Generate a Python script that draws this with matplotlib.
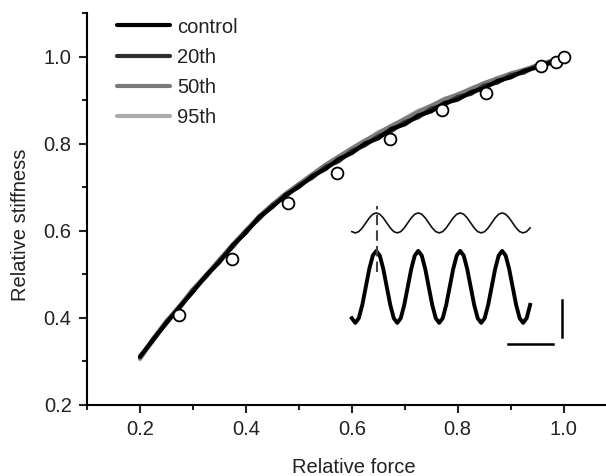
import matplotlib
matplotlib.use("Agg")
import matplotlib.pyplot as plt
from matplotlib.ticker import MultipleLocator, FormatStrFormatter

plt.rcParams['font.family'] = ['Liberation Sans', 'DejaVu Sans']

# Relative force (x) sampled along the stiffness-force relation
force = [0.200, 0.225, 0.250, 0.275, 0.300, 0.325, 0.350, 0.375, 0.400, 0.425,
         0.450, 0.475, 0.500, 0.525, 0.550, 0.575, 0.600, 0.625, 0.650, 0.675,
         0.700, 0.725, 0.750, 0.775, 0.800, 0.825, 0.850, 0.875, 0.900, 0.925,
         0.950, 0.975, 0.990]

stiff_control = [0.310, 0.351, 0.388, 0.426, 0.460, 0.498, 0.528, 0.567, 0.596, 0.632,
                 0.655, 0.683, 0.701, 0.726, 0.742, 0.765, 0.779, 0.801, 0.813, 0.835,
                 0.845, 0.865, 0.875, 0.894, 0.902, 0.919, 0.928, 0.945, 0.953, 0.968,
                 0.976, 0.988, 0.993]
stiff_20 = [0.312, 0.349, 0.391, 0.423, 0.464, 0.495, 0.532, 0.563, 0.600, 0.628,
            0.659, 0.679, 0.705, 0.722, 0.747, 0.760, 0.784, 0.797, 0.818, 0.830,
            0.850, 0.861, 0.881, 0.890, 0.908, 0.915, 0.934, 0.941, 0.958, 0.964,
            0.980, 0.985, 0.991]
stiff_50 = [0.308, 0.353, 0.393, 0.428, 0.466, 0.499, 0.534, 0.569, 0.601, 0.634,
            0.661, 0.686, 0.708, 0.730, 0.752, 0.771, 0.790, 0.808, 0.824, 0.842,
            0.857, 0.873, 0.888, 0.902, 0.914, 0.926, 0.940, 0.950, 0.962, 0.970,
            0.981, 0.990, 0.995]
stiff_95 = [0.305, 0.348, 0.390, 0.425, 0.463, 0.497, 0.531, 0.566, 0.599, 0.631,
            0.658, 0.684, 0.706, 0.729, 0.750, 0.769, 0.787, 0.806, 0.827, 0.840,
            0.858, 0.876, 0.887, 0.904, 0.912, 0.928, 0.938, 0.952, 0.960, 0.971,
            0.979, 0.991, 0.992]

# Open circles
circle_force = [0.273, 0.374, 0.479, 0.572, 0.672, 0.770, 0.854, 0.957, 0.985, 1.000]
circle_stiff = [0.406, 0.536, 0.665, 0.734, 0.811, 0.877, 0.918, 0.979, 0.988, 1.000]

series_labels = ['control', '20th', '50th', '95th']
series_colors = ['#000000', '#2e2e2e', '#7a7a7a', '#ababab']

# Inset: normalised sinusoidal traces (12 samples per cycle)
wave = [-0.87, -1.00, -0.87, -0.50, 0.00, 0.50, 0.87, 1.00, 0.87, 0.50, 0.00, -0.50,
        -0.87, -1.00, -0.87, -0.50, 0.00, 0.50, 0.87, 1.00, 0.87, 0.50, 0.00, -0.50,
        -0.87, -1.00, -0.87, -0.50, 0.00, 0.50, 0.87, 1.00, 0.87, 0.50, 0.00, -0.50,
        -0.87, -1.00, -0.87, -0.50, 0.00, 0.50, 0.87, 1.00, 0.87, 0.50, 0.00, -0.50,
        -0.87, -1.00, -0.87, -0.50]

fig = plt.figure(figsize=(6.06, 4.76), dpi=100)
ax = fig.add_axes([0.1436, 0.1492, 0.8564, 0.8235])

data = [stiff_control, stiff_20, stiff_50, stiff_95]
for i in [3, 2, 1, 0]:
    ax.plot(force, data[i], color=series_colors[i], lw=3.0, label=series_labels[i],
            zorder=2 + (3 - i), solid_capstyle='round', solid_joinstyle='round')

ax.plot(circle_force, circle_stiff, 'o', ms=8.5, mfc='white', mec='black', mew=1.3,
        zorder=10, clip_on=False)

ax.set_xlim(0.1, 1.08)
ax.set_ylim(0.2, 1.101)
ax.set_xticks([0.2, 0.4, 0.6, 0.8, 1.0])
ax.set_yticks([0.2, 0.4, 0.6, 0.8, 1.0])
ax.xaxis.set_minor_locator(MultipleLocator(0.1))
ax.yaxis.set_minor_locator(MultipleLocator(0.1))
ax.xaxis.set_major_formatter(FormatStrFormatter('%.1f'))
ax.yaxis.set_major_formatter(FormatStrFormatter('%.1f'))

for s in ['top', 'right']:
    ax.spines[s].set_visible(False)
for s in ['left', 'bottom']:
    ax.spines[s].set_linewidth(1.5)
ax.tick_params(which='major', direction='out', length=6, width=1.5, labelsize=14.5,
               pad=5, colors='#222222')
ax.tick_params(which='minor', direction='out', length=3.5, width=1.5, colors='#222222')

ax.set_xlabel('Relative force', fontsize=14.5, color='#222222')
ax.set_ylabel('Relative stiffness', fontsize=14.5, color='#222222')
ax.xaxis.set_label_coords(0.514, -0.135)
ax.yaxis.set_label_coords(-0.11, 0.46)

handles, labels = ax.get_legend_handles_labels()
order = [labels.index(l) for l in series_labels]
leg = ax.legend([handles[i] for i in order], [labels[i] for i in order],
                loc='upper left', bbox_to_anchor=(0.042, 1.009), frameon=False,
                fontsize=14.5, handlelength=2.65, handletextpad=0.35, labelspacing=0.56,
                borderaxespad=0)
for txt in leg.get_texts():
    txt.set_color('#222222')

# Inset with traces
ins = fig.add_axes([0.569, 0.265, 0.371, 0.315])
ins.set_axis_off()
t = list(range(len(wave)))
thin = [12.7 + 1.0 * w for w in wave]
thick = [6.3 + 3.6 * w for w in wave]
ins.plot(t, thin, color='#111111', lw=1.2)
ins.plot(t, thick, color='black', lw=2.8)
ins.plot([7.1, 7.1], [7.8, 14.4], color='#444444', lw=1.5, ls=(0, (5, 2.5)))
ins.plot([60, 60], [1.3, 5.0], color='black', lw=1.8)
ins.plot([44.6, 57.4], [0.6, 0.6], color='black', lw=1.8)
ins.set_xlim(-2, 62.3)
ins.set_ylim(0, 15)

fig.savefig('out.png', dpi=100)
